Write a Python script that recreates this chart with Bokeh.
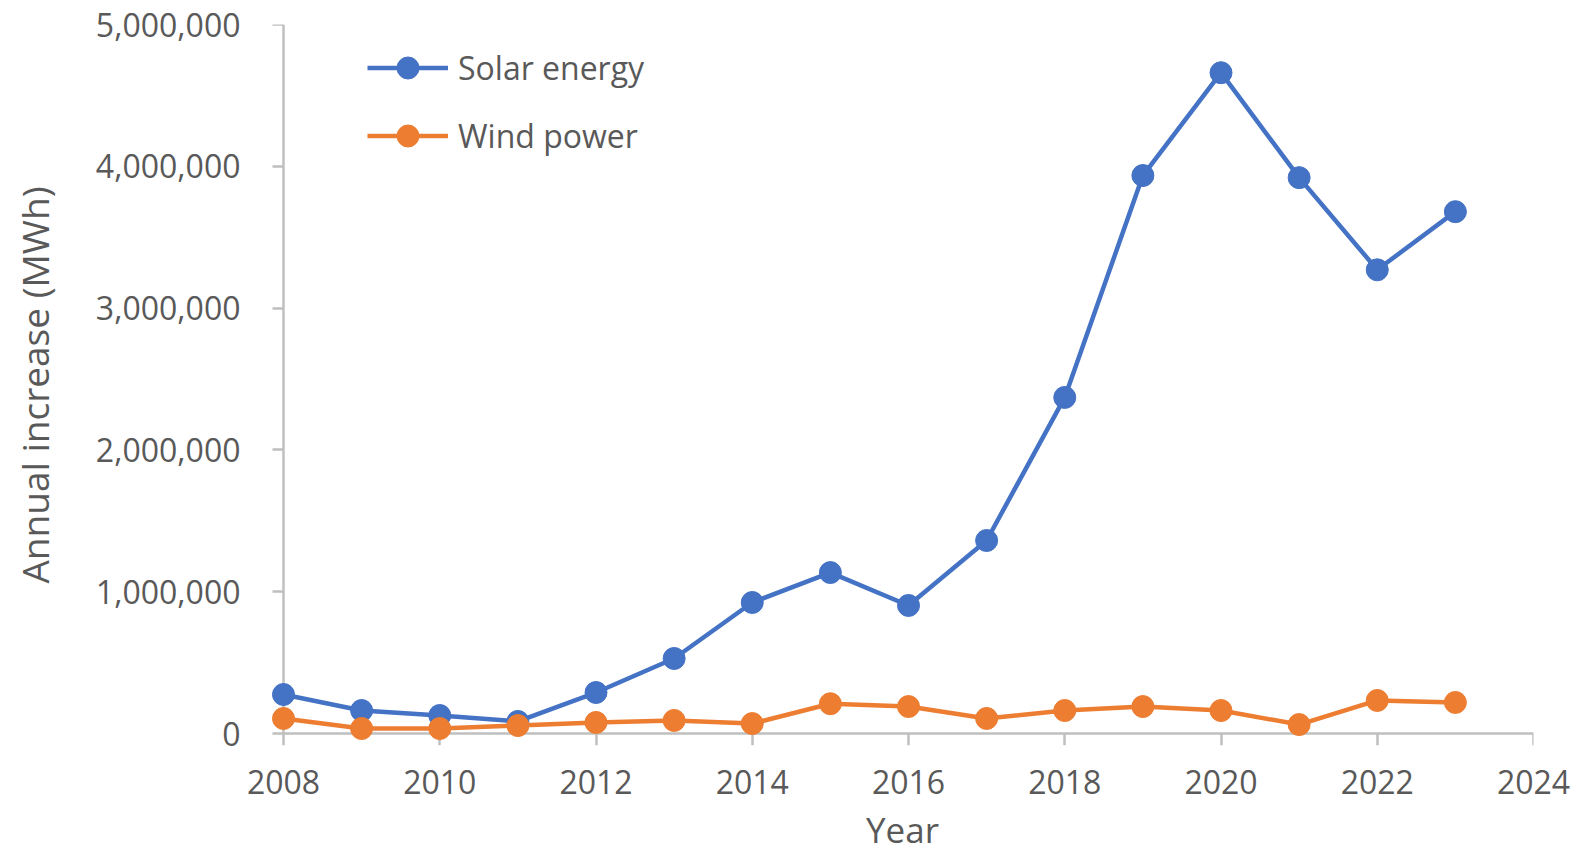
from bokeh.plotting import figure
from bokeh.models import Range1d, FixedTicker, NumeralTickFormatter, Legend, LegendItem, LinearAxis
from bokeh.embed import file_html
from bokeh.resources import INLINE

years = [2008, 2009, 2010, 2011, 2012, 2013, 2014, 2015, 2016, 2017, 2018, 2019, 2020, 2021, 2022, 2023]
solar = [275000, 162000, 127000, 85000, 289000, 529000, 924000, 1135000, 903000, 1361000,
         2370000, 3935000, 4660000, 3920000, 3270000, 3680000]
wind = [106000, 35000, 35000, 56000, 78000, 92000, 70000, 210000, 190000, 106000,
        162000, 190000, 162000, 63000, 233000, 219000]
x_ticks = [2008, 2010, 2012, 2014, 2016, 2018, 2020, 2022, 2024]
y_ticks = [0, 1000000, 2000000, 3000000, 4000000, 5000000]
x_title = "Year"
y_title = "Annual increase (MWh)"

BLUE = "#4472C4"
ORANGE = "#ED7D31"
AXIS = "#BFBFBF"
TEXT = "#595959"
FONT = "Open Sans"

p = figure(frame_width=1262, frame_height=721,
           x_range=Range1d(2008 - 12 / 78.125, 2024),
           y_range=Range1d(-12 / 141.8e-6, 5000000),
           min_border_left=271, min_border_top=24, min_border_right=40, min_border_bottom=100,
           output_backend="svg", toolbar_location=None)
p.outline_line_color = None
p.xgrid.visible = False
p.ygrid.visible = False
p.background_fill_color = "white"

# label axes (at the frame edges): only tick labels and titles
xa = p.xaxis[0]
ya = p.yaxis[0]
for ax in (xa, ya):
    ax.axis_line_color = None
    ax.major_tick_line_color = None
    ax.minor_tick_line_color = None
    ax.major_tick_out = 0
    ax.major_tick_in = 0
    ax.major_label_text_font = FONT
    ax.major_label_text_font_size = "32px"
    ax.major_label_text_color = TEXT
    ax.axis_label_text_font = FONT
    ax.axis_label_text_font_style = "normal"
    ax.axis_label_text_color = TEXT

xa.ticker = FixedTicker(ticks=x_ticks)
xa.major_label_standoff = 24
xa.axis_label = x_title
xa.axis_label_text_font_size = "35px"
xa.axis_label_standoff = 9

ya.ticker = FixedTicker(ticks=y_ticks)
ya.formatter = NumeralTickFormatter(format="0,0")
ya.major_label_standoff = 31
ya.axis_label = y_title
ya.axis_label_text_font_size = "37px"
ya.axis_label_standoff = 33

# line axes placed at x = 2008 and y = 0
def line_axis(ticks, loc, bounds, tick_out):
    ax = LinearAxis(ticker=FixedTicker(ticks=ticks), fixed_location=loc, bounds=bounds)
    ax.axis_line_color = AXIS
    ax.axis_line_width = 2.5
    ax.major_tick_line_color = AXIS
    ax.major_tick_line_width = 2.5
    ax.major_tick_in = 0
    ax.major_tick_out = tick_out
    ax.minor_tick_line_color = None
    ax.major_label_text_font_size = "1px"
    ax.major_label_text_alpha = 0
    ax.major_label_standoff = 0
    return ax

p.add_layout(line_axis(x_ticks, 0, (2008, 2024), 12), "below")
p.add_layout(line_axis(y_ticks, 2008, (0, 5000000), 11), "left")

sl = p.line(years, solar, line_color=BLUE, line_width=4.5, level="overlay")
sm = p.scatter(years, solar, size=22, fill_color=BLUE, line_color=BLUE, level="overlay")
wl = p.line(years, wind, line_color=ORANGE, line_width=4.5, level="overlay")
wm = p.scatter(years, wind, size=22, fill_color=ORANGE, line_color=ORANGE, level="overlay")

legend = Legend(items=[LegendItem(label="Solar energy", renderers=[sl, sm]),
                       LegendItem(label="Wind power", renderers=[wl, wm])],
                location=(96, 582), padding=0, spacing=13,
                glyph_width=81, glyph_height=55, label_height=55, label_standoff=10,
                label_text_font=FONT, label_text_font_size="32px", label_text_color=TEXT,
                border_line_color=None, background_fill_alpha=0)
p.add_layout(legend)

open("out.html", "w").write(file_html(p, INLINE))
